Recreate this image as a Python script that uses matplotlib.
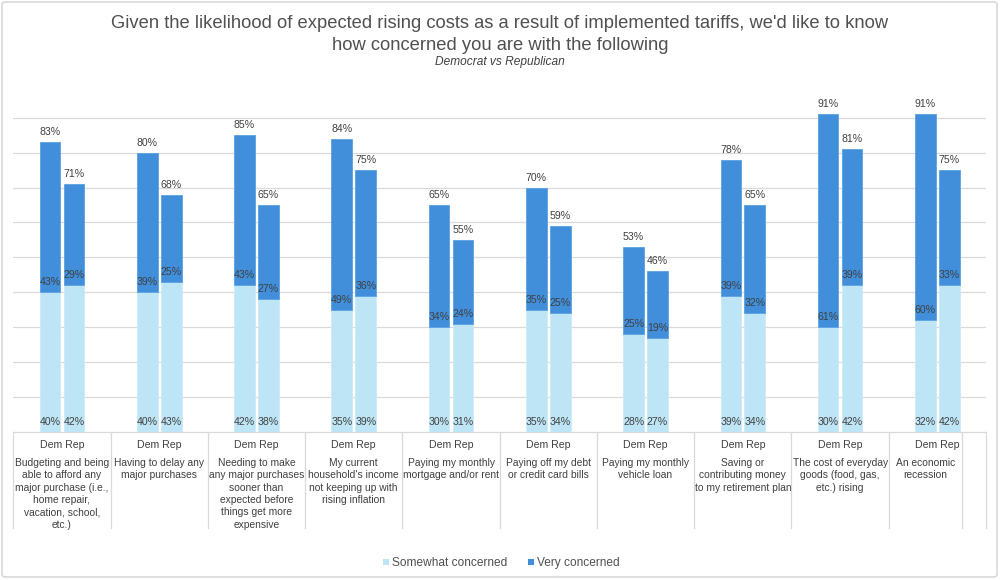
import matplotlib
matplotlib.use('Agg')
import matplotlib.pyplot as plt
import numpy as np
from matplotlib.patches import Rectangle, FancyBboxPatch
from matplotlib.transforms import blended_transform_factory
from matplotlib.lines import Line2D

plt.rcParams['font.family'] = ['Liberation Sans', 'DejaVu Sans']

# ---------------- data ----------------
categories = [
    "Budgeting and being\nable to afford any\nmajor purchase (i.e.,\nhome repair,\nvacation, school,\netc.)",
    "Having to delay any\nmajor purchases",
    "Needing to make\nany major purchases\nsooner than\nexpected before\nthings get more\nexpensive",
    "My current\nhousehold's income\nnot keeping up with\nrising inflation",
    "Paying my monthly\nmortgage and/or rent",
    "Paying off my debt\nor credit card bills",
    "Paying my monthly\nvehicle loan",
    "Saving or\ncontributing money\nto my retirement plan",
    "The cost of everyday\ngoods (food, gas,\netc.) rising",
    "An economic\nrecession",
]
groups = ["Dem", "Rep"]
dem_some = [40, 40, 42, 35, 30, 35, 28, 39, 30, 32]
dem_very = [43, 39, 43, 49, 34, 35, 25, 39, 61, 60]
dem_total = [83, 80, 85, 84, 65, 70, 53, 78, 91, 91]
rep_some = [42, 43, 38, 39, 31, 34, 27, 34, 42, 42]
rep_very = [29, 25, 27, 36, 24, 25, 19, 32, 39, 33]
rep_total = [71, 68, 65, 75, 55, 59, 46, 65, 81, 75]
series_names = ["Somewhat concerned", "Very concerned"]
title1 = "Given the likelihood of expected rising costs as a result of implemented tariffs, we'd like to know"
title2 = "how concerned you are with the following"
subtitle = "Democrat vs Republican"

LIGHT = "#BDE5F6"
DARK = "#418FDB"
TXT = "#404040"
GRID = "#D9D9D9"

W, H = 1000, 580
fig = plt.figure(figsize=(W / 100, H / 100), dpi=100)


def fy(py):
    return 1 - py / H


def fx(px):
    return px / W


base_px, top_px = 431.7, 83.0
ax = fig.add_axes([fx(13.3), fy(base_px), fx(986) - fx(13.3), (base_px - top_px) / H])
ax.set_xlim(-0.5, 9.5)
ax.set_ylim(0, 100)
ax.axis('off')

for g in range(10, 100, 10):
    ax.axhline(g, color=GRID, lw=0.9, zorder=0)
ax.axhline(0, color=GRID, lw=0.9, zorder=0, clip_on=False)

x = np.arange(len(categories))
off = 0.123
w = 0.213

for sign, some, very, total in [(-1, dem_some, dem_very, dem_total), (1, rep_some, rep_very, rep_total)]:
    xs = x + sign * off
    ax.bar(xs, some, w, color=LIGHT, edgecolor="#CDEBF8", linewidth=0.6, zorder=2)
    ax.bar(xs, [t - s for t, s in zip(total, some)], w, bottom=some, color=DARK,
           edgecolor="#5AA2E2", linewidth=0.6, zorder=2)
    for xi, s, v, t in zip(xs, some, very, total):
        for yv, lab in [(0, s), (s, v), (t, t)]:
            ax.annotate(f"{lab}%", (xi, yv), xytext=(0, 7.2), textcoords='offset points',
                        ha='center', va='center', fontsize=7.6, color=TXT, zorder=3)

tr = blended_transform_factory(ax.transData, fig.transFigure)
seps = [i - 0.5 for i in range(10)] + [9.25, 9.5]
for xb in seps:
    fig.add_artist(Line2D([xb, xb], [fy(431.7), fy(528)], transform=tr, color=GRID, lw=0.9))

for i, cat in enumerate(categories):
    ax.text(i, fy(445.5), " ".join(groups), transform=tr, ha='center', va='center',
            fontsize=7.6, color=TXT)
    cx = i if i < 9 else 8.875
    ax.text(cx, fy(458), cat, transform=tr, ha='center', va='top',
            fontsize=7.4, color=TXT, linespacing=1.29)

# title
fig.text(0.5, fy(23.5), title1, ha='center', va='center', fontsize=13.2, color="#505050")
fig.text(0.5, fy(46), title2, ha='center', va='center', fontsize=13.2, color="#505050")
fig.text(0.5, fy(62), subtitle, ha='center', va='center', fontsize=8.6, color="#404040", style='italic')

# legend
sq = 6
for px, name, col in [(383, series_names[0], LIGHT), (528, series_names[1], DARK)]:
    fig.add_artist(Rectangle((fx(px), fy(561.5 + sq / 2)), sq / W, sq / H, transform=fig.transFigure,
                             facecolor=col, edgecolor='none'))
    fig.text(fx(px + 9), fy(566), name, ha='left', va='baseline', fontsize=8.6, color="#505050")

fig.add_artist(FancyBboxPatch((fx(2), fy(577)), fx(995), 575 / H,
                              boxstyle='round,pad=0,rounding_size=0.004', transform=fig.transFigure,
                              fill=False, edgecolor=GRID, lw=1.2))

fig.savefig('out.png', dpi=100)
